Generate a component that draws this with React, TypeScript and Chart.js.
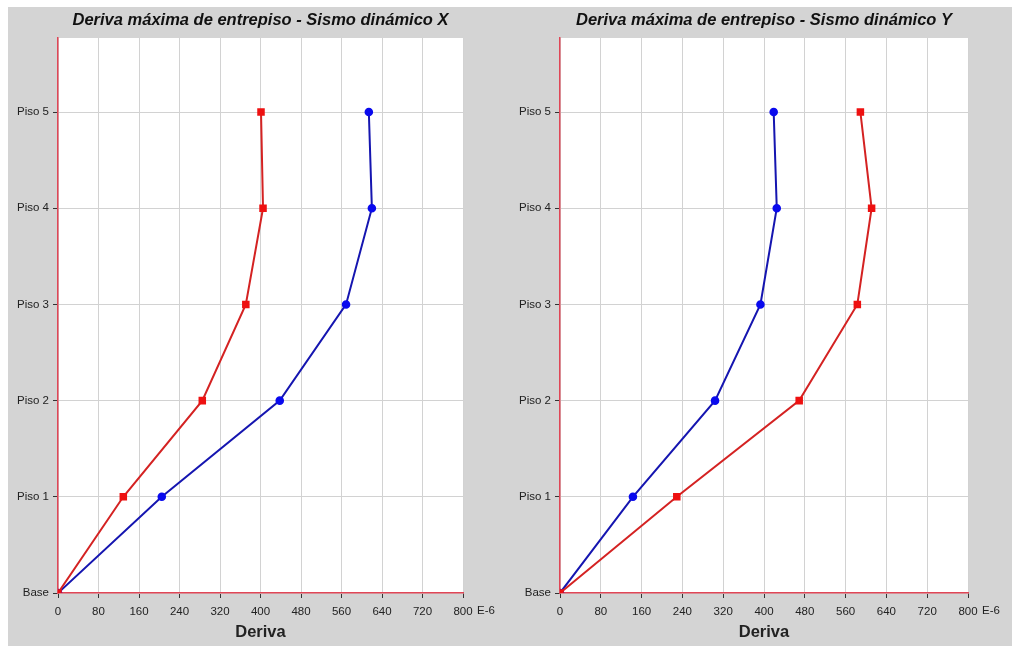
import React, { useEffect, useRef } from "react";
import { Chart, registerables } from "chart.js";

Chart.register(...registerables);

const pisos = ["Base", "Piso 1", "Piso 2", "Piso 3", "Piso 4", "Piso 5"];
const xTicks = [0, 80, 160, 240, 320, 400, 480, 560, 640, 720, 800];

// Sismo dinámico X (E-6)
const derivaXRed = [0, 129, 285, 371, 405, 401];
const derivaXBlue = [0, 205, 438, 569, 620, 614];
// Sismo dinámico Y (E-6)
const derivaYRed = [0, 229, 469, 583, 611, 589];
const derivaYBlue = [0, 143, 304, 393, 425, 419];

const titleX = "Deriva máxima de entrepiso - Sismo dinámico X";
const titleY = "Deriva máxima de entrepiso - Sismo dinámico Y";
const axisTitle = "Deriva";
const unitLabel = "E-6";

const FONT = "'Liberation Sans', Arial, sans-serif";
const RED = "#d42222";
const RED_PT = "#ee1111";
const BLUE = "#1515b0";
const BLUE_PT = "#0a0aee";
const AXIS_RED = "#e04656";

const plotBg = {
  id: "plotBg",
  beforeDraw(chart: any) {
    const { ctx, chartArea } = chart;
    ctx.save();
    ctx.fillStyle = "#ffffff";
    ctx.fillRect(chartArea.left, chartArea.top, chartArea.right - chartArea.left, chartArea.bottom - chartArea.top);
    ctx.restore();
  },
};

const unitPlugin = {
  id: "unitPlugin",
  afterDraw(chart: any) {
    const { ctx, chartArea } = chart;
    ctx.save();
    ctx.fillStyle = "#222";
    ctx.font = `11.5px ${FONT}`;
    ctx.textAlign = "left";
    ctx.textBaseline = "top";
    ctx.fillText(unitLabel, chartArea.right + 14, chartArea.bottom + 12);
    ctx.restore();
  },
};

function makeConfig(title: string, red: number[], blue: number[], yAxisWidth: number, rightPad: number) {
  const toPts = (arr: number[]) => arr.map((v, i) => ({ x: v, y: i }));
  return {
    type: "line" as const,
    data: {
      datasets: [
        {
          data: toPts(red),
          borderColor: RED,
          backgroundColor: RED_PT,
          pointBackgroundColor: RED_PT,
          pointBorderColor: RED_PT,
          pointStyle: "rect",
          pointRadius: 3.9,
          borderWidth: 2,
          tension: 0,
        },
        {
          data: toPts(blue),
          borderColor: BLUE,
          backgroundColor: BLUE_PT,
          pointBackgroundColor: BLUE_PT,
          pointBorderColor: BLUE_PT,
          pointStyle: "circle",
          pointRadius: 3.3,
          borderWidth: 2,
          tension: 0,
        },
      ],
    },
    options: {
      responsive: false,
      maintainAspectRatio: false,
      animation: false,
      layout: { padding: { left: 0, right: rightPad, top: 0, bottom: 0 } },
      plugins: {
        legend: { display: false },
        tooltip: { enabled: false },
        title: {
          display: true,
          text: title,
          fullSize: false,
          color: "#111",
          font: { family: FONT, size: 16.5, weight: "bold", style: "italic" },
          padding: { top: 4, bottom: 7.2 },
        },
      },
      scales: {
        x: {
          type: "linear",
          min: 0,
          max: 800,
          afterBuildTicks: (scale: any) => {
            scale.ticks = xTicks.map((v) => ({ value: v }));
          },
          afterFit: (scale: any) => {
            scale.height = 53;
          },
          ticks: {
            color: "#222",
            font: { family: FONT, size: 11.5 },
            padding: 7,
            maxRotation: 0,
            autoSkip: false,
          },
          grid: { color: "#d2d2d2", lineWidth: 1, tickColor: "#333", tickLength: 5 },
          border: { display: true, color: AXIS_RED, width: 1.5 },
          title: {
            display: true,
            text: axisTitle,
            color: "#222",
            font: { family: FONT, size: 16.5, weight: "bold" },
            padding: { top: 0, bottom: 4 },
          },
        },
        y: {
          type: "linear",
          min: 0,
          max: 5.77,
          afterBuildTicks: (scale: any) => {
            scale.ticks = pisos.map((_, i) => ({ value: i }));
          },
          afterFit: (scale: any) => {
            scale.width = yAxisWidth;
          },
          ticks: {
            color: "#222",
            font: { family: FONT, size: 11.5 },
            padding: 4,
            autoSkip: false,
            callback: (v: any) => pisos[Math.round(Number(v))] ?? "",
          },
          grid: { color: "#d2d2d2", lineWidth: 1, tickColor: "#333", tickLength: 5 },
          border: { display: true, color: AXIS_RED, width: 1.5 },
        },
      },
    },
    plugins: [plotBg, unitPlugin],
  };
}

function ChartCanvas(props: { cfg: any; left: number; width: number; height: number }) {
  const ref = useRef<HTMLCanvasElement | null>(null);
  useEffect(() => {
    if (!ref.current) return;
    const chart = new Chart(ref.current, props.cfg);
    return () => chart.destroy();
  }, []);
  return (
    <canvas
      ref={ref}
      width={props.width}
      height={props.height}
      style={{ position: "absolute", left: props.left, top: 0, width: props.width, height: props.height }}
    />
  );
}

export default function App() {
  const H = 639;
  return (
    <div
      style={{
        position: "fixed",
        left: 8,
        top: 7,
        right: 0,
        bottom: 0,
        background: "#d4d4d4",
        overflow: "hidden",
      }}
    >
      <ChartCanvas cfg={makeConfig(titleX, derivaXRed, derivaXBlue, 50, 45)} left={0} width={500} height={H} />
      <ChartCanvas cfg={makeConfig(titleY, derivaYRed, derivaYBlue, 52, 44)} left={500} width={504} height={H} />
    </div>
  );
}
